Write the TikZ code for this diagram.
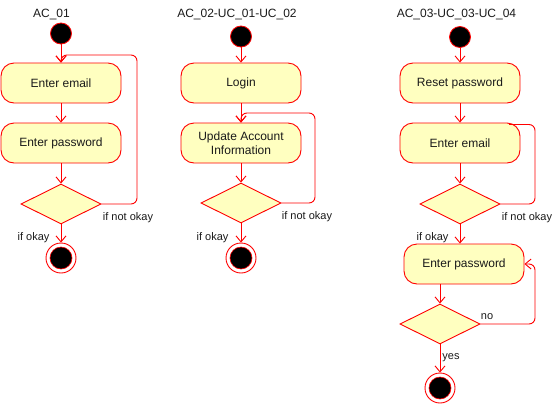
\documentclass[tikz,border=0pt]{standalone}
\usepackage{fontspec}
\setmainfont{Liberation Sans}
\usetikzlibrary{shapes.geometric,arrows.meta}
\definecolor{boxfill}{HTML}{FFFFC0}
\definecolor{edgecol}{HTML}{FF0000}
\definecolor{txt}{HTML}{1A1A1A}
\begin{document}
\begin{tikzpicture}[x=1pt,y=-1pt,
  title/.style={font=\fontsize{12}{14}\selectfont, text=txt, inner sep=0},
  act/.style={draw=edgecol, fill=boxfill, rounded corners=13pt, minimum width=120pt, minimum height=40pt, align=center, font=\fontsize{12}{14}\selectfont, text=txt, line width=0.9pt, inner sep=0},
  dec/.style={diamond, draw=edgecol, fill=boxfill, minimum width=80pt, minimum height=40pt, inner sep=0, line width=0.9pt},
  startnode/.style={circle, fill=black, draw=edgecol, line width=0.8pt, minimum size=21pt, inner sep=0},
  endouter/.style={circle, fill=white, draw=edgecol, line width=0.9pt, minimum size=30pt, inner sep=0},
  endinner/.style={circle, fill=black, draw=edgecol, line width=0.6pt, minimum size=22pt, inner sep=0},
  flow/.style={draw=edgecol, line width=0.9pt, -{Straight Barb[length=6pt,width=10pt]}},
  loopline/.style={draw=edgecol, line width=0.9pt, rounded corners=6pt},
  lab/.style={font=\fontsize{11}{13}\selectfont, text=txt, inner sep=0}]
\useasboundingbox (0,0) rectangle (552,405);

% ---- column 1
\node[title] (t1) at (51.5,14) {AC\_01};
\node[startnode] (s1) at (61,33.5) {};
\node[act] (b1) at (61,83) {Enter email};
\node[act] (b2) at (61,143) {Enter password};
\node[dec] (d1) at (61,204) {};
\node[endouter] (e1) at (61,258) {};
\node[endinner] (e1i) at (e1) {};
\coordinate (c1a) at (137,204);
\coordinate (c1b) at (137,55);
\coordinate (c1c) at (61,55);
\draw[flow] (s1) -- (b1);
\draw[flow] (b1) -- (b2);
\draw[flow] (b2) -- (d1);
\draw[flow] (d1) -- (e1);
\draw[loopline, -{Straight Barb[length=6pt,width=10pt]}] (d1.east) -- (c1a) -- (c1b) -- (c1c) -- (b1.north);
\node[lab] (l1a) at (128,218) {if not okay};
\node[lab] (l1b) at (33.5,237.5) {if okay};

% ---- column 2
\node[title] (t2) at (237,14) {AC\_02-UC\_01-UC\_02};
\node[startnode] (s2) at (241,36.5) {};
\node[act] (b3) at (241,83) {Login};
\node[act] (b4) at (241,143) {Update Account\\Information};
\node[dec] (d2) at (241,203) {};
\node[endouter] (e2) at (241,258) {};
\node[endinner] (e2i) at (e2) {};
\coordinate (c2a) at (315,203);
\coordinate (c2b) at (315,113);
\coordinate (c2c) at (241,113);
\draw[flow] (s2) -- (b3);
\draw[flow] (b3) -- (b4);
\draw[flow] (b4) -- (d2);
\draw[flow] (d2) -- (e2);
\draw[loopline, -{Straight Barb[length=6pt,width=10pt]}] (d2.east) -- (c2a) -- (c2b) -- (c2c) -- (b4.north);
\node[lab] (l2a) at (307,216.5) {if not okay};
\node[lab] (l2b) at (212.5,237.5) {if okay};

% ---- column 3
\node[title] (t3) at (456.5,14) {AC\_03-UC\_03-UC\_04};
\node[startnode] (s3) at (460,37) {};
\node[act] (b5) at (460,83) {Reset password};
\node[act] (b6) at (460,143) {Enter email};
\node[dec] (d3) at (460,204) {};
\node[act] (b7) at (464,264) {Enter password};
\node[dec] (d4) at (440,324) {};
\node[endouter] (e3) at (440,388) {};
\node[endinner] (e3i) at (e3) {};
\coordinate (c3a) at (535,204);
\coordinate (c3b) at (535,124.5);
\coordinate (c3c) at (509,124.5);
\coordinate (c4a) at (535,324);
\coordinate (c4b) at (535,264);
\draw[flow] (s3) -- (b5);
\draw[flow] (b5) -- (b6);
\draw[flow] (b6) -- (d3);
\draw[flow] (d3.south) -- (d3.south |- b7.north);
\draw[flow] (d4.north |- b7.south) -- (d4.north);
\draw[flow] (d4) -- (e3);
\draw[loopline] (d3.east) -- (c3a) -- (c3b) -- (c3c);
\draw[loopline, -{Straight Barb[length=6pt,width=10pt]}] (d4.east) -- (c4a) -- (c4b) -- (b7.east);
\node[lab] (l3a) at (527,217.5) {if not okay};
\node[lab] (l3b) at (432.5,237.5) {if okay};
\node[lab] (l4a) at (487,317) {no};
\node[lab] (l4b) at (451,358) {yes};
\end{tikzpicture}
\end{document}
